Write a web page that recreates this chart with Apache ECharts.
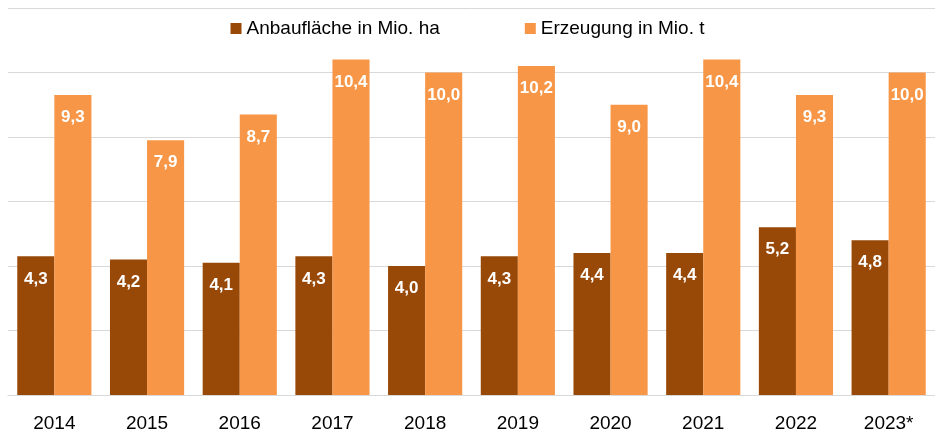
<!DOCTYPE html>
<html>
<head>
    <meta charset="utf-8" />
    <title>Anbaufläche und Erzeugung</title>
    <script src="https://cdn.jsdelivr.net/npm/echarts@6/dist/echarts.min.js"></script>
    <style>
        html, body { margin: 0; padding: 0; background: #fff; }
    </style>
</head>
<body>
    <div id="main" style="width: 935px;height:434px;"></div>
    <script type="text/javascript">
        // Jahre
        var years = ['2014', '2015', '2016', '2017', '2018', '2019', '2020', '2021', '2022', '2023*'];
        // Anbaufläche in Mio. ha
        var flaeche = [4.3, 4.2, 4.1, 4.3, 4.0, 4.3, 4.4, 4.4, 5.2, 4.8];
        // Erzeugung in Mio. t
        var erzeugung = [9.3, 7.9, 8.7, 10.4, 10.0, 10.2, 9.0, 10.4, 9.3, 10.0];

        var fontName = '"Liberation Sans", Arial, Helvetica, sans-serif';

        function deLabel(p) {
            return p.value.toFixed(1).replace('.', ',');
        }

        var myChart = echarts.init(document.getElementById('main'));

        var barLabel = {
            show: true,
            position: 'insideTop',
            distance: 14,
            color: '#fff',
            fontWeight: 'bold',
            fontSize: 17,
            fontFamily: fontName,
            formatter: deLabel
        };

        var option = {
            animation: false,
            textStyle: { fontFamily: fontName },
            legend: {
                top: 14,
                left: 'center',
                icon: 'rect',
                itemWidth: 11,
                itemHeight: 11,
                itemGap: 85,
                textStyle: { fontSize: 19, color: '#000', fontFamily: fontName },
                data: ['Anbaufläche in Mio. ha', 'Erzeugung in Mio. t']
            },
            grid: { left: 8, right: 0, top: 8, bottom: 39 },
            xAxis: {
                type: 'category',
                data: years,
                axisTick: { show: false },
                axisLine: { lineStyle: { color: '#d9d9d9', width: 1 } },
                axisLabel: { fontSize: 19, color: '#000', margin: 19, fontFamily: fontName }
            },
            yAxis: {
                type: 'value',
                min: 0,
                max: 12,
                interval: 2,
                axisLabel: { show: false },
                axisLine: { show: false },
                axisTick: { show: false },
                splitLine: { lineStyle: { color: '#d9d9d9', width: 1 } }
            },
            series: [
                {
                    name: 'Anbaufläche in Mio. ha',
                    type: 'bar',
                    data: flaeche,
                    barWidth: '40%',
                    barGap: '0%',
                    itemStyle: { color: '#984807' },
                    label: barLabel
                },
                {
                    name: 'Erzeugung in Mio. t',
                    type: 'bar',
                    data: erzeugung,
                    barWidth: '40%',
                    barGap: '0%',
                    itemStyle: { color: '#F79646' },
                    label: barLabel
                }
            ]
        };

        myChart.setOption(option);
    </script>
</body>
</html>
